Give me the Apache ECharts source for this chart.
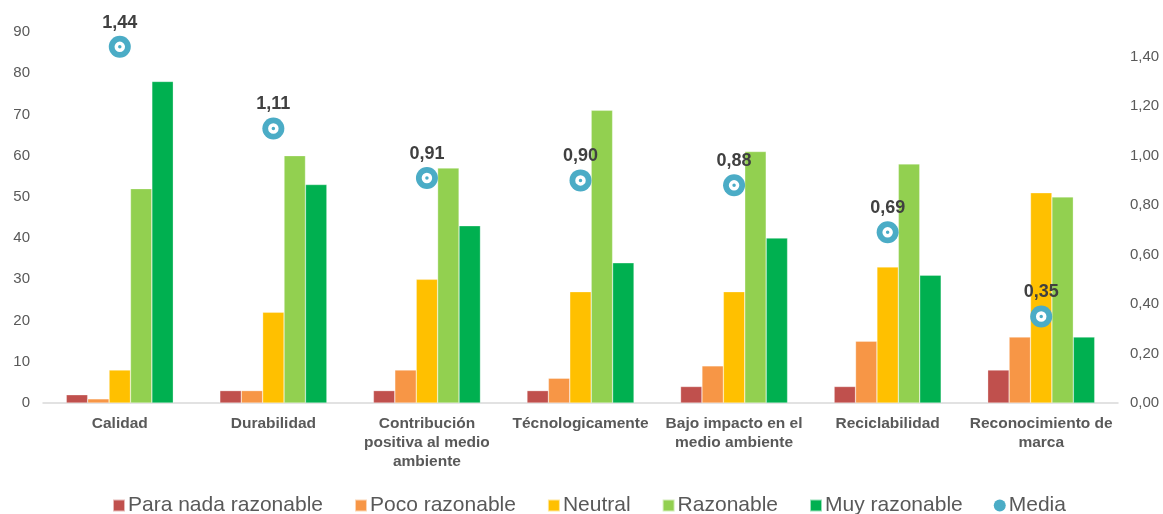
<!DOCTYPE html>
<html><head><meta charset="utf-8">
<script src="https://cdn.jsdelivr.net/npm/echarts@6/dist/echarts.min.js"></script>
<style>html,body{margin:0;padding:0;background:#fff}#c{width:1163px;height:514px}</style>
</head><body><div id="c"></div>
<script>
const categories = ['Calidad','Durabilidad','Contribución\npositiva al medio\nambiente','Técnologicamente','Bajo impacto en el\nmedio ambiente','Reciclabilidad','Reconocimiento de\nmarca'];
const paraNada = [2,3,3,3,4,4,8];
const poco = [1,3,8,6,9,15,16];
const neutral = [8,22,30,27,27,33,51];
const razonable = [52,60,57,71,61,58,50];
const muy = [78,53,43,34,40,31,16];
const media = [1.44,1.11,0.91,0.90,0.88,0.69,0.35];
const seriesNames = ['Para nada razonable','Poco razonable','Neutral','Razonable','Muy razonable','Media'];
const colors = ['#C0504D','#F79646','#FFC000','#92D050','#00B050','#4BACC6'];
const barData = [paraNada, poco, neutral, razonable, muy];

const font = 'Liberation Sans, Arial, sans-serif';
const chart = echarts.init(document.getElementById('c'));
const fmt2 = v => v.toFixed(2).replace('.', ',');
const series = barData.map((d,i)=>({
  name: seriesNames[i], type:'bar', data:d, barWidth:21.4, barGap:'0%',
  itemStyle:{color:colors[i], borderColor:'rgba(255,255,255,0.6)', borderWidth:0.5}
}));
series.push({
  name:'Media', type:'scatter', yAxisIndex:1, data:media, symbol:'circle', symbolSize:22,
  itemStyle:{color:colors[5], opacity:1}, z:10,
  label:{show:true, position:'top', distance:4, formatter:p=>fmt2(p.value),
    color:'#404040', fontWeight:'bold', fontSize:18, fontFamily:font}
});
series.push({
  name:'MediaInner', type:'scatter', yAxisIndex:1, data:media, symbol:'circle', symbolSize:7,
  itemStyle:{color:colors[5], borderColor:'#fff', borderWidth:3.5, opacity:1}, z:11, silent:true
});
chart.setOption({
  animation:false,
  color: colors,
  grid:{left:43, right:45, top:32, bottom:111},
  legend:{
    data: seriesNames.map((n,i)=>({name:n, icon: i===5?'circle':'rect'})),
    bottom:-7, left:107, itemWidth:12, itemHeight:12, itemGap:31,
    textStyle:{fontSize:21, color:'#595959', fontFamily:font, padding:[0,0,0,-2]}
  },
  xAxis:{
    type:'category', data:categories,
    axisLine:{lineStyle:{color:'#D9D9D9', width:1.5}},
    axisTick:{show:false},
    axisLabel:{interval:0, fontSize:15.5, fontWeight:'bold', color:'#595959', fontFamily:font, lineHeight:19, margin:11}
  },
  yAxis:[
    {type:'value', min:0, max:90, interval:10, splitLine:{show:false}, axisLine:{show:false},
     axisLabel:{fontSize:15, color:'#595959', fontFamily:font, margin:13}},
    {type:'value', min:0, max:1.5, interval:0.2, splitLine:{show:false}, axisLine:{show:false},
     axisLabel:{fontSize:15, color:'#595959', fontFamily:font, margin:12, showMaxLabel:false,
       formatter:v=> v>1.45 ? '' : fmt2(v)}}
  ],
  series: series
});
</script></body></html>
